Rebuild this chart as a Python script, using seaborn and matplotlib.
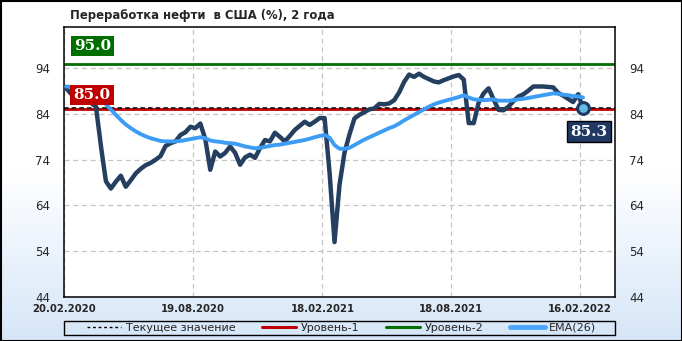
import numpy as np
import pandas as pd
import matplotlib
matplotlib.use("Agg")
import matplotlib.pyplot as plt
from matplotlib.patches import Rectangle
from matplotlib.lines import Line2D
from matplotlib.colors import LinearSegmentedColormap
import seaborn as sns

# ---------------- data ----------------
start_date = "2020-02-23"
utilization = [
    89.6, 88.4, 87.8, 87.5, 87.0, 86.4, 85.6, 77.0, 69.3, 67.7,
    69.2, 70.5, 68.1, 69.5, 71.0, 72.0, 72.8, 73.3, 74.0, 74.8,
    77.0, 77.6, 78.0, 79.4, 80.0, 81.2, 80.9, 81.9, 78.5, 71.8,
    75.8, 74.7, 75.5, 76.9, 75.5, 72.9, 74.5, 75.1, 74.4, 76.5,
    78.3, 78.0, 79.9, 79.0, 78.0, 79.2, 80.5, 81.4, 82.3, 81.6,
    82.3, 83.1, 83.1, 71.2, 56.0, 68.5, 75.5, 79.5, 83.0, 83.8,
    84.4, 85.0, 85.2, 86.2, 86.1, 86.3, 87.0, 88.7, 91.0, 92.6,
    92.1, 92.8, 92.1, 91.6, 91.1, 90.9, 91.4, 91.8, 92.2, 92.5,
    91.5, 82.0, 82.0, 86.5, 88.5, 89.6, 87.2, 84.9, 84.8, 85.6,
    86.8, 87.8, 88.3, 89.1, 90.0, 90.0, 90.0, 89.9, 89.8, 88.6,
    88.0, 87.3, 86.6, 88.3, 85.3,
]
ema26 = [
    90.0, 89.9, 89.6, 89.3, 89.0, 88.7, 88.3, 87.4, 86.1, 85.0,
    83.8, 82.7, 81.7, 80.9, 80.2, 79.6, 79.1, 78.7, 78.4, 78.1,
    78.0, 78.0, 78.0, 78.1, 78.3, 78.5, 78.7, 78.9, 78.7, 78.2,
    78.0, 77.9, 77.7, 77.6, 77.5, 77.2, 76.9, 76.7, 76.5, 76.6,
    76.8, 77.0, 77.2, 77.3, 77.5, 77.7, 77.9, 78.1, 78.3, 78.6,
    78.9, 79.2, 79.4, 78.8, 77.2, 76.4, 76.4, 76.6, 77.2, 77.8,
    78.4, 78.9, 79.4, 79.9, 80.4, 80.9, 81.3, 81.9, 82.6, 83.2,
    83.8, 84.4, 85.0, 85.6, 86.1, 86.5, 86.8, 87.1, 87.4, 87.7,
    88.1, 87.6, 87.2, 87.1, 87.0, 87.1, 87.2, 86.9, 86.9, 86.9,
    87.0, 87.2, 87.3, 87.5, 87.7, 87.9, 88.1, 88.3, 88.5, 88.4,
    88.2, 88.1, 87.9, 87.8, 87.6,
]
level_1 = 85.0
level_2 = 95.0
tick_dates = ["2020-02-20", "2020-08-19", "2021-02-18", "2021-08-18", "2022-02-16"]
tick_labels = ["20.02.2020", "19.08.2020", "18.02.2021", "18.08.2021", "16.02.2022"]
y_ticks = [44, 54, 64, 74, 84, 94]
title = "Переработка нефти  в США (%), 2 года"
legend_labels = ["Текущее значение", "Уровень-1", "Уровень-2", "EMA(26)"]

dates = pd.date_range(start_date, periods=len(utilization), freq="7D")
df = pd.DataFrame({"date": dates, "value": utilization, "ema": ema26})
current_value = utilization[-1]

# ---------------- style ----------------
sns.set_style("white")
plt.rcParams["font.family"] = ["DejaVu Sans"]

C_LINE = "#243f60"
C_EMA = "#3d9df5"
C_RED = "#c00000"
C_GREEN = "#006e00"
C_NAVY = "#1f3864"

W, H = 682, 341
fig = plt.figure(figsize=(W / 100, H / 100), dpi=100)

# background gradient
bg = fig.add_axes([0, 0, 1, 1], zorder=-10)
grad = np.linspace(0, 1, 256).reshape(-1, 1)
cmap = LinearSegmentedColormap.from_list("bg", ["#ffffff", "#ffffff", "#d6e6f8"])
bg.imshow(grad, aspect="auto", cmap=cmap, extent=[0, 1, 0, 1], origin="upper")
bg.set_axis_off()

ax = fig.add_axes([64 / W, 1 - 297 / H, 551 / W, 270 / H])
ax.set_facecolor("white")

ax.axhline(level_2, color=C_GREEN, lw=2, zorder=2)
ax.axhline(level_1, color=C_RED, lw=2, zorder=2)
ax.axhline(current_value, color="black", lw=1.1, ls=(0, (3, 2)), zorder=2.1)

sns.lineplot(data=df, x="date", y="value", ax=ax, color=C_LINE, lw=3.2, zorder=3)
sns.lineplot(data=df, x="date", y="ema", ax=ax, color=C_EMA, lw=2.8, zorder=4)
ax.plot(df["date"].iloc[-1], df["value"].iloc[-1], "o", ms=8.5, mfc="#62bde0",
        mec=C_NAVY, mew=2.2, zorder=5)

ax.set_xlim(pd.Timestamp("2020-02-20"), pd.Timestamp("2022-04-06"))
ax.set_ylim(44, 103)
ax.set_yticks(y_ticks)
ax.set_xticks(pd.to_datetime(tick_dates))
ax.set_xticklabels(tick_labels, fontweight="bold", fontsize=7.3)
ax.set_xlabel("")
ax.set_ylabel("")
ax.tick_params(axis="x", length=0, pad=5)
ax.tick_params(axis="y", length=0, pad=10, labelsize=8.5, labelright=True)
for lbl in ax.get_yticklabels():
    lbl.set_verticalalignment("center_baseline")
ax.set_axisbelow(True)
ax.grid(True, ls=(0, (4, 3)), color="#c4c4c4", lw=0.9)
for s in ax.spines.values():
    s.set_visible(True)
    s.set_color("black")
    s.set_linewidth(1.1)

# level labels
lbl_font = dict(fontsize=11, fontweight="bold", family="DejaVu Serif", color="white",
                ha="center", va="center", zorder=6)
ax.annotate(f"{level_2:.1f}", xy=(0, level_2), xycoords=("axes fraction", "data"),
            xytext=(28.5 * 0.72, 17.4 * 0.72), textcoords="offset points",
            bbox=dict(boxstyle="square,pad=0.2", fc=C_GREEN, ec="none"), **lbl_font)
ax.annotate(f"{level_1:.1f}", xy=(0, level_1), xycoords=("axes fraction", "data"),
            xytext=(28 * 0.72, 14.4 * 0.72), textcoords="offset points",
            bbox=dict(boxstyle="square,pad=0.2", fc=C_RED, ec="none"), **lbl_font)
ax.annotate(f"{current_value:.1f}", xy=(df["date"].iloc[-1], current_value),
            xytext=(6 * 0.72, -23.5 * 0.72), textcoords="offset points",
            bbox=dict(boxstyle="square,pad=0.2", fc=C_NAVY, ec="black", lw=1), **lbl_font)

# title
fig.text(70 / W, 1 - 15 / H, title, ha="left", va="center", fontsize=8.4, fontweight="bold")

# legend
handles = [
    Line2D([], [], color="black", lw=1, ls=(0, (2, 2))),
    Line2D([], [], color=C_RED, lw=2.2),
    Line2D([], [], color=C_GREEN, lw=2.2),
    Line2D([], [], color="#4aa6ff", lw=3.5),
]
fig.legend(handles, legend_labels, loc="center", bbox_to_anchor=(341.5 / W, 1 - 328 / H),
           ncol=4, frameon=False, fontsize=8, handlelength=3.1, handletextpad=0.4,
           columnspacing=2.4, borderaxespad=0)
fig.patches.append(Rectangle((64 / W, 1 - 335 / H), 551 / W, 14 / H, transform=fig.transFigure,
                             fill=False, ec="black", lw=1))
fig.patches.append(Rectangle((0.5 / W, 0.5 / H), (W - 1) / W, (H - 1) / H, transform=fig.transFigure,
                             fill=False, ec="black", lw=1.5))

fig.savefig("out.png", dpi=100)
